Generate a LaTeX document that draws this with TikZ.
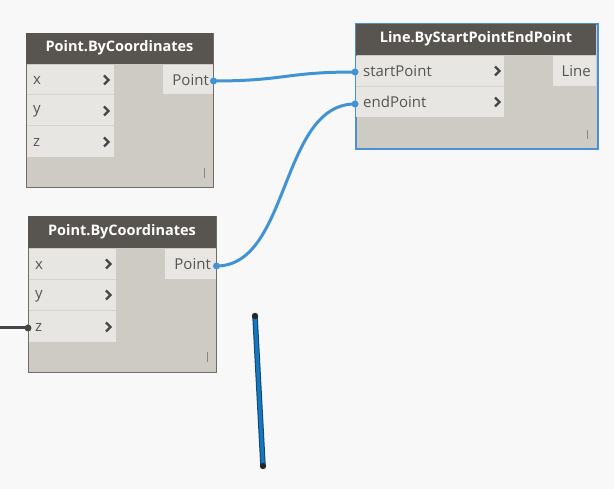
\documentclass[tikz,border=0pt]{standalone}
\usepackage{fontspec}
\setmainfont{Open Sans}
\definecolor{bg}{RGB}{248,248,248}
\definecolor{hdr}{RGB}{88,84,80}
\definecolor{body}{RGB}{206,202,196}
\definecolor{rowc}{RGB}{232,230,226}
\definecolor{sepc}{RGB}{214,211,206}
\definecolor{bord}{RGB}{112,108,104}
\definecolor{wire}{RGB}{66,146,214}
\definecolor{selb}{RGB}{74,144,210}
\definecolor{lbl}{RGB}{85,85,85}
\definecolor{chev}{RGB}{70,70,70}
\definecolor{geo}{RGB}{22,118,190}
\tikzset{
  nodebox/.style={draw=bord, line width=1pt, fill=body, inner sep=0pt, anchor=north west},
  selbox/.style={draw=selb, line width=2pt, fill=body, inner sep=0pt, anchor=north west},
  hdrtext/.style={text=white, font=\fontsize{14.5}{15}\selectfont\bfseries, inner sep=0pt},
  portlbl/.style={text=lbl, font=\fontsize{15}{16}\selectfont, inner sep=0pt},
  chevron/.style={draw=chev, line width=2.2pt, line cap=butt, line join=miter},
  wirestyle/.style={draw=wire, line width=3pt},
  portdot/.style={fill=wire},
  marker/.style={draw=lbl!70, line width=1pt},
}
\newcommand{\chev}[2]{\draw[chevron] (#1-3,#2-4.5) -- (#1+1.5,#2) -- (#1-3,#2+4.5);}
\begin{document}
\begin{tikzpicture}[x=1pt,y=-1pt]
\useasboundingbox[fill=bg] (0,0) rectangle (614,489);

% ---------- Node 1 ----------
\node[nodebox, minimum width=187pt, minimum height=154pt] (n1) at (26,33) {};
\fill[hdr] (26,33) rectangle (213,64);
\node[hdrtext] (n1h) at (119.5,48) {Point.ByCoordinates};
\fill[rowc] (27,65) rectangle (114,157);
\draw[sepc, line width=1pt] (27,95) -- (114,95) (27,126) -- (114,126);
\fill[rowc] (163,65) rectangle (212.5,94);
\node[portlbl, anchor=west] (n1x) at (33,80) {x};
\node[portlbl, anchor=west] (n1y) at (33,111) {y};
\node[portlbl, anchor=west] (n1z) at (33,142) {z};
\chev{107}{80}\chev{107}{111}\chev{107}{142}
\node[portlbl, anchor=east] (n1o) at (209,80) {Point};
\draw[marker] (204,168) -- (204,178);
\coordinate (n1out) at (213.5,81);

% ---------- Node 3 ----------
\node[nodebox, minimum width=188pt, minimum height=156pt] (n3) at (28,216) {};
\fill[hdr] (28,216) rectangle (216,248);
\node[hdrtext] (n3h) at (122,231.5) {Point.ByCoordinates};
\fill[rowc] (29,249) rectangle (116,342);
\draw[sepc, line width=1pt] (29,280) -- (116,280) (29,311) -- (116,311);
\fill[rowc] (165,249) rectangle (215.5,279);
\node[portlbl, anchor=west] (n3x) at (35,265) {x};
\node[portlbl, anchor=west] (n3y) at (35,296) {y};
\node[portlbl, anchor=west] (n3z) at (35,327) {z};
\chev{109}{264}\chev{109}{295}\chev{109}{327}
\node[portlbl, anchor=east] (n3o) at (211,264) {Point};
\draw[marker] (207,352) -- (207,362);
\coordinate (n3out) at (216.5,266);
\coordinate (n3zin) at (28,328);
\coordinate (wstart) at (0,328);

% ---------- Node 2 (selected) ----------
\node[selbox, minimum width=242pt, minimum height=125pt] (n2) at (355,23) {};
\fill[hdr] (356,24) rectangle (596,55);
\node[hdrtext] (n2h) at (476,38.5) {Line.ByStartPointEndPoint};
\fill[rowc] (356,56) rectangle (504,117);
\draw[sepc, line width=1pt] (356,86.5) -- (504,86.5);
\fill[rowc] (553,56) rectangle (596,86);
\node[portlbl, anchor=west] (n2s) at (363,71.5) {startPoint};
\node[portlbl, anchor=west] (n2e) at (363,102) {endPoint};
\chev{498}{71}\chev{498}{102}
\node[portlbl, anchor=east] (n2o) at (591,71.5) {Line};
\draw[marker] (587,130) -- (587,139);
\coordinate (n2sin) at (355,72);
\coordinate (n2ein) at (355,104);

% ---------- Wires ----------
\draw[wirestyle] (n1out) .. controls (285,81) and (285,72) .. (n2sin);
\draw[wirestyle] (n3out) .. controls (290,266) and (280,104) .. (n2ein);
\draw[draw=chev, line width=3pt] (wstart) -- (n3zin);
\fill[chev] (n3zin) circle (3.5);
\fill[portdot] (n1out) circle (3.5);
\fill[portdot] (n3out) circle (3.5);
\fill[portdot] (n2sin) circle (3.5);
\fill[portdot] (n2ein) circle (3.5);

% ---------- Geometry preview ----------
\coordinate (ga) at (255,316);
\coordinate (gb) at (263,466);
\draw[draw=geo!60!black, line width=5.5pt] (ga) -- (gb);
\draw[draw=geo, line width=3.5pt] (ga) -- (gb);
\fill[black!85] (ga) circle (3.2);
\fill[black!85] (gb) circle (3.2);
\end{tikzpicture}
\end{document}
